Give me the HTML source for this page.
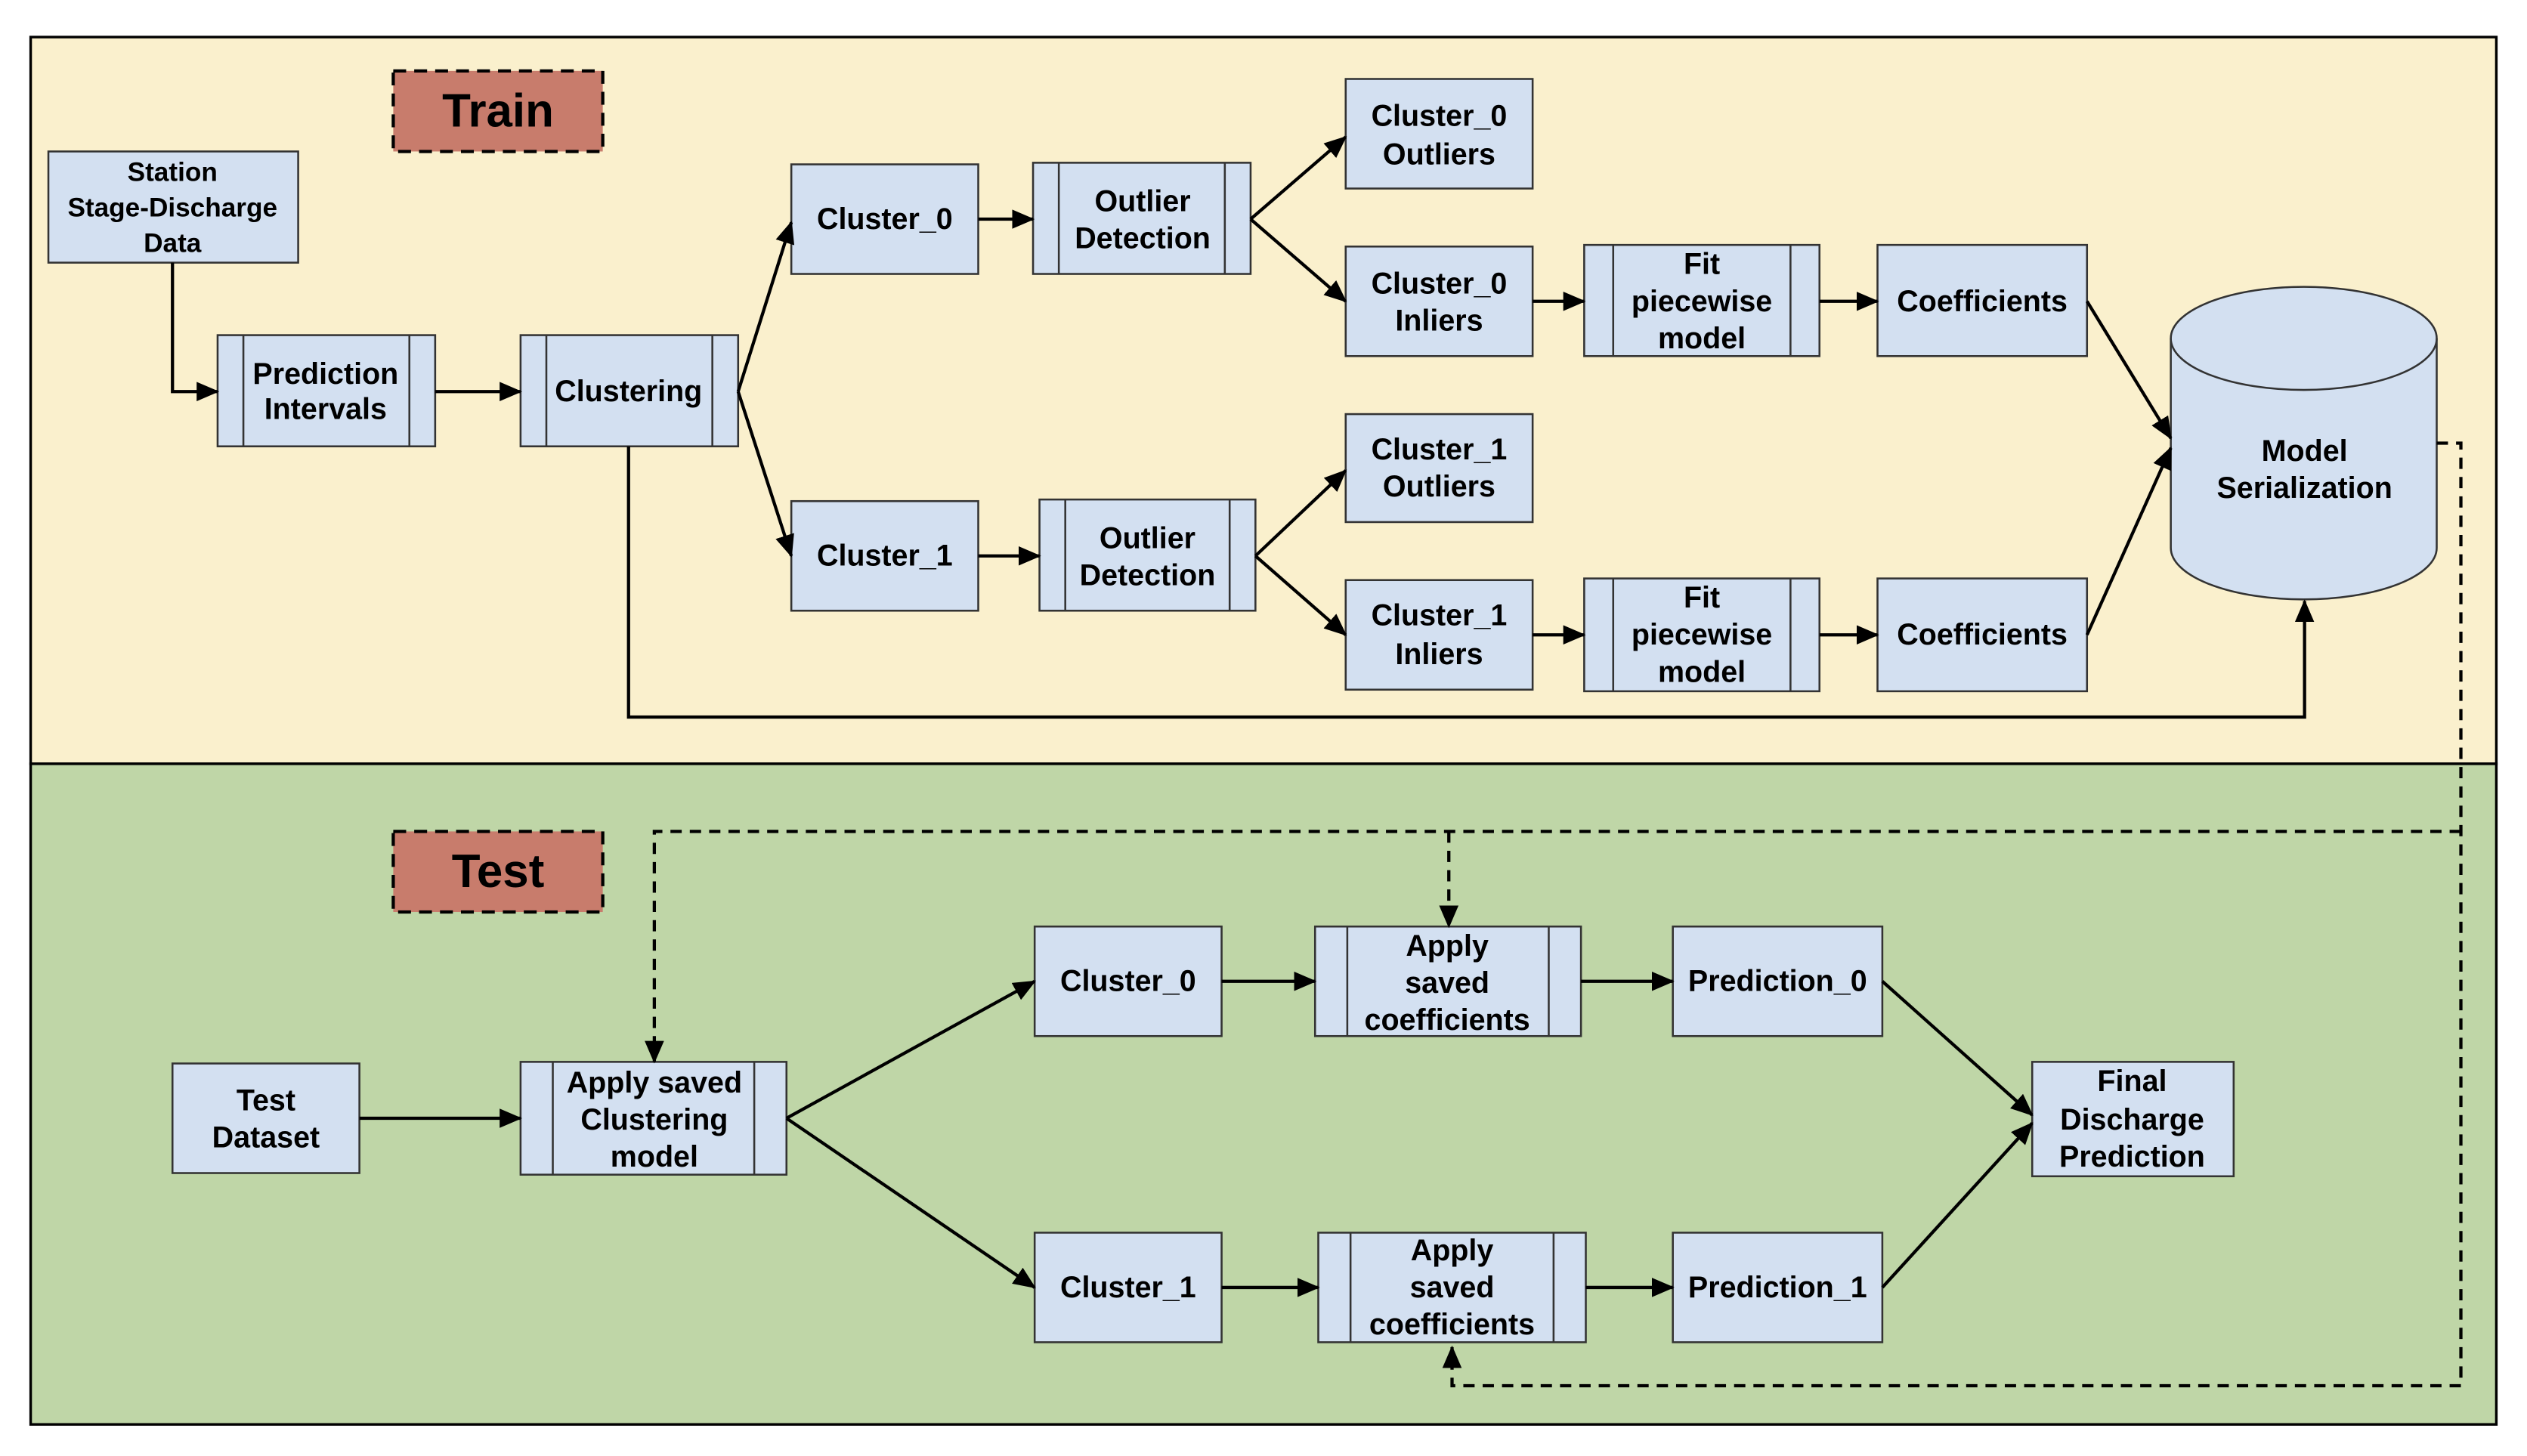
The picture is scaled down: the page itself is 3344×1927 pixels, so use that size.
<!DOCTYPE html>
<html><head><meta charset="utf-8"><style>
html,body{margin:0;padding:0;background:#fff}
svg{display:block}
text{font-family:"Liberation Sans",Arial,sans-serif;font-weight:bold;fill:#000;text-anchor:middle;dominant-baseline:central}
</style></head><body>
<svg width="3344" height="1927" viewBox="0 0 1568 903.6" xmlns="http://www.w3.org/2000/svg">
<defs>
<marker id="a" markerUnits="userSpaceOnUse" markerWidth="14" markerHeight="12" refX="13" refY="6" orient="auto"><path d="M0,0 L14,6 L0,12 z" fill="#000"/></marker>
</defs>
<rect x="0" y="0" width="1568" height="903.6" fill="#fff"/>
<rect x="19" y="23" width="1530" height="451" fill="#faf0cd" stroke="#000" stroke-width="1.6"/>
<rect x="19" y="474" width="1530" height="410" fill="#bfd6a7" stroke="#000" stroke-width="1.6"/>

<g stroke="#000" stroke-width="2" stroke-dasharray="8,5" fill="#c87c6c">
<rect x="244" y="44" width="130" height="50"/>
<rect x="244" y="516" width="130" height="50"/>
</g>
<text x="309" y="69" font-size="29">Train</text>
<text x="309" y="541" font-size="29">Test</text>

<g fill="#d3e0f1" stroke="#333" stroke-width="1.2">
<rect x="30" y="94" width="155" height="69"/>
<rect x="135" y="208" width="135" height="69"/><line x1="151" y1="208" x2="151" y2="277"/><line x1="254" y1="208" x2="254" y2="277"/>
<rect x="323" y="208" width="135" height="69"/><line x1="339" y1="208" x2="339" y2="277"/><line x1="442" y1="208" x2="442" y2="277"/>
<rect x="491" y="102" width="116" height="68"/>
<rect x="641" y="101" width="135" height="69"/><line x1="657" y1="101" x2="657" y2="170"/><line x1="760" y1="101" x2="760" y2="170"/>
<rect x="835" y="49" width="116" height="68"/>
<rect x="835" y="153" width="116" height="68"/>
<rect x="983" y="152" width="146" height="69"/><line x1="1001" y1="152" x2="1001" y2="221"/><line x1="1111" y1="152" x2="1111" y2="221"/>
<rect x="1165" y="152" width="130" height="69"/>
<rect x="491" y="311" width="116" height="68"/>
<rect x="645" y="310" width="134" height="69"/><line x1="661" y1="310" x2="661" y2="379"/><line x1="763" y1="310" x2="763" y2="379"/>
<rect x="835" y="257" width="116" height="67"/>
<rect x="835" y="360" width="116" height="68"/>
<rect x="983" y="359" width="146" height="70"/><line x1="1001" y1="359" x2="1001" y2="429"/><line x1="1111" y1="359" x2="1111" y2="429"/>
<rect x="1165" y="359" width="130" height="70"/>
<path d="M1347,210 L1347,340 A82.5,32 0 0 0 1512,340 L1512,210 A82.5,32 0 0 0 1347,210 Z"/>
<path d="M1347,210 A82.5,32 0 0 0 1512,210" fill="none"/>

<rect x="107" y="660" width="116" height="68"/>
<rect x="323" y="659" width="165" height="70"/><line x1="343" y1="659" x2="343" y2="729"/><line x1="468" y1="659" x2="468" y2="729"/>
<rect x="642" y="575" width="116" height="68"/>
<rect x="816" y="575" width="165" height="68"/><line x1="836" y1="575" x2="836" y2="643"/><line x1="961" y1="575" x2="961" y2="643"/>
<rect x="1038" y="575" width="130" height="68"/>
<rect x="1261" y="659" width="125" height="71"/>
<rect x="642" y="765" width="116" height="68"/>
<rect x="818" y="765" width="166" height="68"/><line x1="838" y1="765" x2="838" y2="833"/><line x1="964" y1="765" x2="964" y2="833"/>
<rect x="1038" y="765" width="130" height="68"/>
</g>

<g stroke="#000" stroke-width="2" fill="none" marker-end="url(#a)">
<path d="M107,163 L107,243 L135,243"/>
<path d="M270,243 L323,243"/>
<path d="M458,243 L491,138"/>
<path d="M458,243 L491,345"/>
<path d="M607,136 L641,136"/>
<path d="M776,136 L835,85"/>
<path d="M776,136 L835,187"/>
<path d="M951,187 L983,187"/>
<path d="M1129,187 L1165,187"/>
<path d="M1295,187 L1347,272"/>
<path d="M607,345 L645,345"/>
<path d="M779,345 L835,292"/>
<path d="M779,345 L835,394"/>
<path d="M951,394 L983,394"/>
<path d="M1129,394 L1165,394"/>
<path d="M1295,394 L1347,278"/>
<path d="M390,277 L390,445 L1430,445 L1430,373"/>
<path d="M223,694 L323,694"/>
<path d="M488,694 L642,609"/>
<path d="M488,694 L642,799"/>
<path d="M758,609 L816,609"/>
<path d="M981,609 L1038,609"/>
<path d="M1168,609 L1261,692"/>
<path d="M758,799 L818,799"/>
<path d="M984,799 L1038,799"/>
<path d="M1168,799 L1261,697"/>
</g>
<g stroke="#000" stroke-width="2" fill="none" stroke-dasharray="7,5">
<path d="M1512,275 L1527,275 L1527,860 L901,860 L901,836" marker-end="url(#a)"/>
<path d="M1527,516 L406,516 L406,659" marker-end="url(#a)"/>
<path d="M899,516 L899,575" marker-end="url(#a)"/>
</g>

<g font-size="16.5">
<text x="107" y="107">Station</text>
<text x="107" y="129">Stage-Discharge</text>
<text x="107" y="151">Data</text>
</g>
<g font-size="18.5">
<text x="202" y="232">Prediction</text><text x="202" y="254">Intervals</text>
<text x="390" y="243">Clustering</text>
<text x="549" y="136">Cluster_0</text>
<text x="709" y="125">Outlier</text><text x="709" y="148">Detection</text>
<text x="893" y="72">Cluster_0</text><text x="893" y="96">Outliers</text>
<text x="893" y="176">Cluster_0</text><text x="893" y="199">Inliers</text>
<text x="1056" y="164">Fit</text><text x="1056" y="187">piecewise</text><text x="1056" y="210">model</text>
<text x="1230" y="187">Coefficients</text>
<text x="549" y="345">Cluster_1</text>
<text x="712" y="334">Outlier</text><text x="712" y="357">Detection</text>
<text x="893" y="279">Cluster_1</text><text x="893" y="302">Outliers</text>
<text x="893" y="382">Cluster_1</text><text x="893" y="406">Inliers</text>
<text x="1056" y="371">Fit</text><text x="1056" y="394">piecewise</text><text x="1056" y="417">model</text>
<text x="1230" y="394">Coefficients</text>
<text x="1430" y="280">Model</text><text x="1430" y="303">Serialization</text>

<text x="165" y="683">Test</text><text x="165" y="706">Dataset</text>
<text x="406" y="672">Apply saved</text><text x="406" y="695">Clustering</text><text x="406" y="718">model</text>
<text x="700" y="609">Cluster_0</text>
<text x="898" y="587">Apply</text><text x="898" y="610">saved</text><text x="898" y="633">coefficients</text>
<text x="1103" y="609">Prediction_0</text>
<text x="1323" y="671">Final</text><text x="1323" y="695">Discharge</text><text x="1323" y="718">Prediction</text>
<text x="700" y="799">Cluster_1</text>
<text x="901" y="776">Apply</text><text x="901" y="799">saved</text><text x="901" y="822">coefficients</text>
<text x="1103" y="799">Prediction_1</text>
</g>
</svg>
</body></html>
